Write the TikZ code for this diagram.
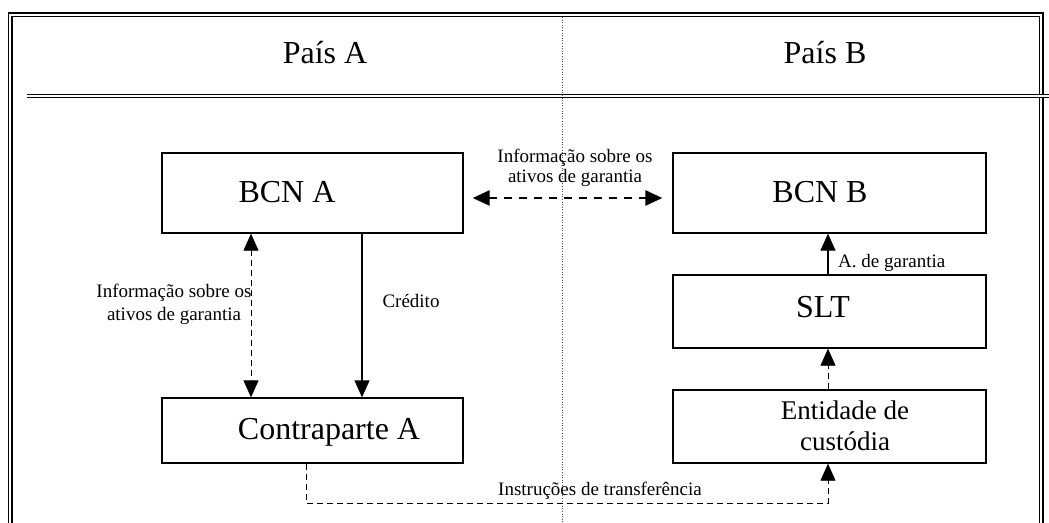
\documentclass[tikz,border=0pt]{standalone}
\usepackage{fontspec}
\setmainfont{Liberation Serif}
\usetikzlibrary{arrows.meta}
\tikzset{
  boxnode/.style={draw, line width=1.3pt, minimum width=#1, inner sep=0pt},
  bigtext/.style={font=\fontsize{32}{36}\selectfont, inner sep=0pt, anchor=base},
  midtext/.style={font=\fontsize{27}{31}\selectfont, inner sep=0pt, align=center},
  smalltext/.style={font=\fontsize{19}{23}\selectfont, inner sep=0pt},
  tip/.style={-{Triangle[length=17pt,width=15pt]}},
  bothtip/.style={{Triangle[length=17pt,width=15pt]}-{Triangle[length=17pt,width=15pt]}},
  thindash/.style={line width=0.8pt, dash pattern=on 6pt off 4pt},
  frameline/.style={double, line width=1.4pt, double distance=2.2pt},
}
\begin{document}
\begin{tikzpicture}[x=1pt,y=-1pt]
\useasboundingbox (0,0) rectangle (1049,522);
% frame
\draw[frameline] (10,530) -- (10,14.6) -- (1041,14.6) -- (1041,530);
\draw[frameline, line width=1.2pt, double distance=1.4pt] (27,95.8) -- (1052,95.8);
\coordinate (dtop) at (562,17);
\coordinate (dbot) at (562,522);
\draw[dotted, line width=0.6pt, black!70] (dtop) -- (dbot);
% headers
\node[bigtext] (hA) at (325,63) {País A};
\node[bigtext] (hB) at (825,63) {País B};
% boxes
\node[boxnode=301pt, minimum height=80pt] (bcna) at (312.5,193) {};
\node[boxnode=313pt, minimum height=80pt] (bcnb) at (829.5,193) {};
\node[boxnode=313pt, minimum height=73pt] (slt) at (829.5,311.5) {};
\node[boxnode=313pt, minimum height=73pt] (ent) at (829.5,426.5) {};
\node[boxnode=301pt, minimum height=65pt] (cpa) at (312.5,430.5) {};
% box texts
\node[bigtext] (tbcna) at (287,202) {BCN A};
\node[bigtext] (tbcnb) at (820,202) {BCN B};
\node[bigtext] (tslt) at (823,317) {SLT};
\node[bigtext] (tcpa) at (329,439) {Contraparte A};
\node[midtext, anchor=base] (tent) at (845,450) {Entidade de\\custódia};
% connectors
\draw[bothtip, line width=2.6pt, dash pattern=on 8pt off 7pt, shorten <=9pt, shorten >=10pt]
  (bcna.east |- 0,198) -- (bcnb.west |- 0,198);
\node[smalltext, font=\fontsize{19}{20}\selectfont, align=center, anchor=base] (linfo) at (575,182) {Informação sobre os\\ativos de garantia};
\draw[bothtip, thindash] (bcna.south -| 251,0) -- (cpa.north -| 251,0);
\node[smalltext, align=center, anchor=base] (linfo2) at (174,320) {Informação sobre os\\ativos de garantia};
\draw[tip, line width=1.3pt] (bcna.south -| 362,0) -- (cpa.north -| 362,0);
\node[smalltext, anchor=base] (lcred) at (411,307) {Crédito};
\draw[tip, line width=1.3pt] (slt.north -| 828,0) -- (bcnb.south -| 828,0);
\node[smalltext, anchor=base west] (lgar) at (838,267) {A. de garantia};
\draw[tip, thindash] (ent.north -| 828,0) -- (slt.south -| 828,0);
\draw[tip, thindash] (cpa.south -| 306,0) -- (306,503) -- (828,503) -- (ent.south -| 828,0);
\node[smalltext, anchor=base] (linstr) at (600,495) {Instruções de transferência};
\end{tikzpicture}
\end{document}
